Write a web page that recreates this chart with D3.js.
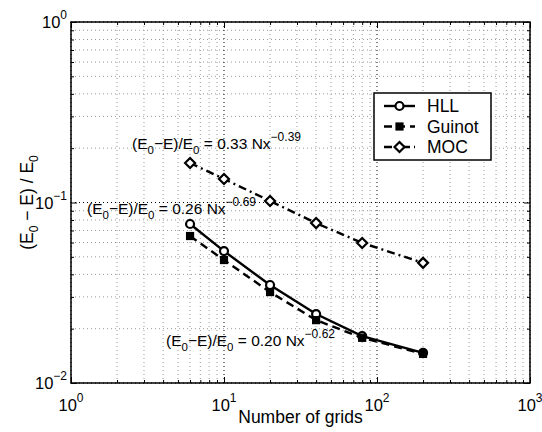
<!DOCTYPE html>
<html>
<head>
<meta charset="utf-8">
<script src="https://cdn.jsdelivr.net/npm/d3@7"></script>
<style>
  body { margin: 0; background: #fff; }
  svg { font-family: "Liberation Sans", Arial, Helvetica, sans-serif; }
</style>
</head>
<body>
<script>
// data
const grids = [6, 10, 20, 40, 80, 200];
const hll = [0.0760, 0.0538, 0.0349, 0.0241, 0.0182, 0.0147];
const guinot = [0.0652, 0.0480, 0.0319, 0.0223, 0.0178, 0.0145];
const moc = [0.1655, 0.135, 0.102, 0.0769, 0.0597, 0.0463];

const xMajor = [1, 10, 100, 1000];
const xExp = ['0', '1', '2', '3'];
const yMajor = [0.01, 0.1, 1];
const yExp = ['\u22122', '\u22121', '0'];

const W = 542, H = 432;
const margin = {top: 22, right: 12, bottom: 49, left: 71};
const w = W - margin.left - margin.right;
const h = H - margin.top - margin.bottom;

const svg = d3.select('body').append('svg')
    .attr('width', W)
    .attr('height', H);

const g = svg.append('g')
    .attr('transform', `translate(${margin.left},${margin.top})`);

const x = d3.scaleLog().domain([1, 1000]).range([0, w]);
const y = d3.scaleLog().domain([0.01, 1]).range([h, 0]);

// minor positions 2..9 in each decade
const minorOf = dom => {
  const out = [];
  for (let d = dom[0]; d < dom[1]; d *= 10)
    for (let k = 2; k <= 9; k++) out.push(k * d);
  return out;
};
const xMinor = minorOf([1, 1000]);
const yMinor = minorOf([0.01, 1]);

// grid
g.selectAll('.gxm').data(xMinor).enter().append('line')
    .attr('x1', d => x(d)).attr('x2', d => x(d))
    .attr('y1', 0).attr('y2', h)
    .attr('stroke', '#999').attr('stroke-dasharray', '1,3');
g.selectAll('.gym').data(yMinor).enter().append('line')
    .attr('y1', d => y(d)).attr('y2', d => y(d))
    .attr('x1', 0).attr('x2', w)
    .attr('stroke', '#999').attr('stroke-dasharray', '1,3');
g.selectAll('.gx').data(xMajor).enter().append('line')
    .attr('x1', d => x(d)).attr('x2', d => x(d))
    .attr('y1', 0).attr('y2', h)
    .attr('stroke', '#000').attr('stroke-dasharray', '1,3');
g.selectAll('.gy').data(yMajor).enter().append('line')
    .attr('y1', d => y(d)).attr('y2', d => y(d))
    .attr('x1', 0).attr('x2', w)
    .attr('stroke', '#000').attr('stroke-dasharray', '1,3');

// ticks, inward on all four sides
const tickAxes = [
  [d3.axisBottom(x), `translate(0,${h})`],
  [d3.axisTop(x), 'translate(0,0)'],
  [d3.axisLeft(y), 'translate(0,0)'],
  [d3.axisRight(y), `translate(${w},0)`]
];
tickAxes.forEach(([ax, tr], i) => {
  const isX = i < 2;
  g.append('g').attr('transform', tr)
      .call(ax.tickValues(isX ? xMajor : yMajor).tickSize(-6).tickFormat(''))
      .call(s => s.select('.domain').remove());
  g.append('g').attr('transform', tr)
      .call(ax.tickValues(isX ? xMinor : yMinor).tickSize(-3).tickFormat(''))
      .call(s => s.select('.domain').remove());
});
g.selectAll('.tick line').attr('stroke', '#000');

g.append('rect')
    .attr('width', w).attr('height', h)
    .attr('fill', 'none').attr('stroke', '#000').attr('stroke-width', 1.5);

// tick labels
const xl = g.selectAll('.xl').data(xMajor).enter().append('text')
    .attr('x', d => x(d)).attr('y', h + 28)
    .attr('text-anchor', 'middle')
    .attr('font-size', 16.5);
xl.append('tspan').text('10');
xl.append('tspan').attr('dy', -9).attr('font-size', 12).text((d, i) => xExp[i]);

const yl = g.selectAll('.yl').data(yMajor).enter().append('text')
    .attr('x', -4).attr('y', d => y(d) + 6)
    .attr('text-anchor', 'end')
    .attr('font-size', 16.5);
yl.append('tspan').text('10');
yl.append('tspan').attr('dy', -9).attr('font-size', 12).text((d, i) => yExp[i]);

// axis titles
svg.append('text')
    .attr('x', margin.left + w / 2).attr('y', 423)
    .attr('text-anchor', 'middle').attr('font-size', 17.5)
    .text('Number of grids');

const yt = svg.append('text')
    .attr('transform', `translate(33,${margin.top + h / 2}) rotate(-90)`)
    .attr('text-anchor', 'middle').attr('font-size', 17.5);
yt.append('tspan').text('(E');
yt.append('tspan').attr('dy', 5).attr('font-size', 12).text('0');
yt.append('tspan').attr('dy', -5).text(' \u2212 E) / E');
yt.append('tspan').attr('dy', 5).attr('font-size', 12).text('0');

// series
const series = [
  {name: 'HLL', vals: hll, dash: null, marker: 'circle'},
  {name: 'Guinot', vals: guinot, dash: '8,5', marker: 'square'},
  {name: 'MOC', vals: moc, dash: '8,4,2,4', marker: 'diamond'}
];

const line = d3.line()
    .x(d => x(d[0]))
    .y(d => y(d[1]));

const drawMarker = (sel, type) => {
  if (type === 'circle') {
    sel.append('circle').attr('r', 4)
        .attr('fill', '#fff').attr('stroke', '#000').attr('stroke-width', 2.2);
  } else if (type === 'square') {
    sel.append('rect').attr('x', -3.5).attr('y', -3.5)
        .attr('width', 7).attr('height', 7)
        .attr('fill', '#000').attr('stroke', '#000').attr('stroke-width', 1.2);
  } else {
    sel.append('path').attr('d', 'M0,-5L5,0L0,5L-5,0Z')
        .attr('fill', '#fff').attr('stroke', '#000').attr('stroke-width', 2.2);
  }
};

series.forEach(s => {
  const pts = grids.map((n, i) => [n, s.vals[i]]);
  g.append('path').datum(pts)
      .attr('d', line)
      .attr('fill', 'none').attr('stroke', '#000').attr('stroke-width', 2.4)
      .attr('stroke-dasharray', s.dash);
  g.selectAll('.m-' + s.name).data(pts).enter().append('g')
      .attr('transform', d => `translate(${x(d[0])},${y(d[1])})`)
      .call(sel => drawMarker(sel, s.marker));
});

// fit annotations
const notes = [
  {x: 132, y: 149, c: '0.33', e: '\u22120.39'},
  {x: 87, y: 214, c: '0.26', e: '\u22120.69'},
  {x: 166, y: 346, c: '0.20', e: '\u22120.62'}
];
notes.forEach(n => {
  const t = svg.append('text')
      .attr('x', n.x).attr('y', n.y).attr('font-size', 15.5);
  t.append('tspan').text('(E');
  t.append('tspan').attr('dy', 5).attr('font-size', 11.5).text('0');
  t.append('tspan').attr('dy', -5).text('\u2212E)/E');
  t.append('tspan').attr('dy', 5).attr('font-size', 11.5).text('0');
  t.append('tspan').attr('dy', -5).text(` = ${n.c} Nx`);
  t.append('tspan').attr('dy', -8).attr('font-size', 12).text(n.e);
});

// legend
const lg = svg.append('g').attr('transform', 'translate(374,93)');
lg.append('rect')
    .attr('width', 117).attr('height', 67)
    .attr('fill', '#fff').attr('stroke', '#000').attr('stroke-width', 1.5);
series.forEach((s, i) => {
  const row = lg.append('g').attr('transform', `translate(0,${13 + i * 20.5})`);
  row.append('line')
      .attr('x1', 10).attr('x2', 41)
      .attr('stroke', '#000').attr('stroke-width', 2.4)
      .attr('stroke-dasharray', s.dash);
  row.append('g').attr('transform', 'translate(25.5,0)')
      .call(sel => drawMarker(sel, s.marker));
  row.append('text')
      .attr('x', 53).attr('y', 6)
      .attr('font-size', 17.5)
      .text(s.name);
});
</script>
</body>
</html>
